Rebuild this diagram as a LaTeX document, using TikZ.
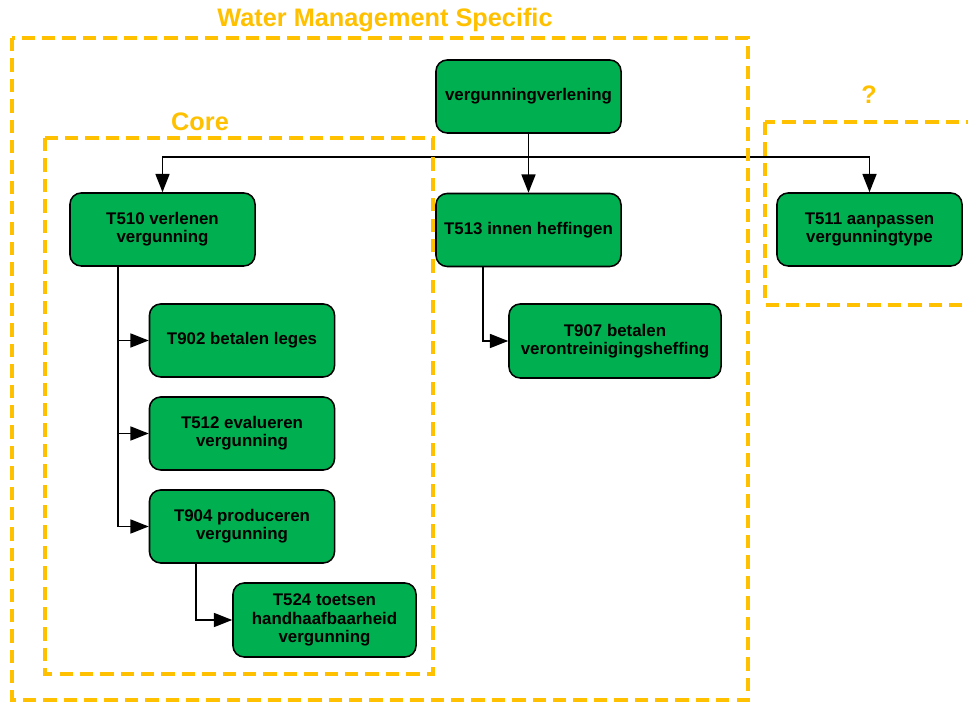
\documentclass[tikz,border=0pt]{standalone}
\usepackage{fontspec}
\setmainfont{Liberation Sans}
\usepackage{xcolor}
\usepackage{tikz}
\usetikzlibrary{positioning,arrows.meta}
\definecolor{taskgreen}{HTML}{00B050}
\definecolor{scopeorange}{HTML}{FFC000}

\begin{document}
\begin{tikzpicture}[x=0.025cm, y=-0.025cm,
    task/.style={draw=black, line width=1.1pt, fill=taskgreen, rounded corners=8pt,
        minimum width=4.625cm, minimum height=1.825cm, align=center, inner sep=2pt,
        font=\fontsize{12}{13}\selectfont\bfseries},
    scopebox/.style={draw=scopeorange, line width=2.8pt, dash pattern=on 9.5pt off 5pt},
    scopetitle/.style={text=scopeorange, font=\fontsize{18}{21}\selectfont\bfseries},
    link/.style={line width=1pt},
    arr/.style={link, -{Triangle[length=13pt,width=10pt]}}]
    \clip (0,0) rectangle (968,707);

    \node[task] (vv) at (528.5,96.5) {vergunningverlening};
    \node[task] (t510) at (162.5,229.5) {T510 verlenen\\vergunning};
    \node[task] (t513) at (528.5,230) {T513 innen heffingen};
    \node[task] (t511) at (869.5,229.5) {T511 aanpassen\\vergunningtype};
    \node[task] (t902) at (242,340.5) {T902 betalen leges};
    \node[task] (t512) at (242,433.5) {T512 evalueren\\vergunning};
    \node[task] (t904) at (242,526.5) {T904 produceren\\vergunning};
    \node[task, minimum width=4.575cm, minimum height=1.85cm] (t524) at (324.5,620) {T524 toetsen\\handhaafbaarheid\\vergunning};
    \node[task, minimum width=5.3cm, minimum height=1.85cm] (t907) at (615,341) {T907 betalen\\verontreinigingsheffing};

    \coordinate (bus) at (528.5,157);
    \draw[link] (vv.south) -- (bus);
    \draw[arr] (bus) -| (t510.north);
    \draw[arr] (bus) -- (t513.north);
    \draw[arr] (bus) -| (t511.north);

    \coordinate (j510) at (118,266);
    \foreach \t in {t902,t512,t904}
        \draw[arr] (j510) |- (\t.west);
    \coordinate (j904) at (196,563);
    \draw[arr] (j904) |- (t524.west);
    \coordinate (j513) at (483,267);
    \draw[arr] (j513) |- (t907.west);

    \draw[scopebox] (12,38) rectangle (748,700);
    \draw[scopebox] (45,138) rectangle (433,674);
    \draw[scopebox] (765,122) rectangle (995,305);
    \node[scopetitle] (wmtitle) at (385,20) {Water Management Specific};
    \node[scopetitle] (coretitle) at (200,122) {Core};
    \node[scopetitle] (qtitle) at (869,95) {?};
\end{tikzpicture}
\end{document}
